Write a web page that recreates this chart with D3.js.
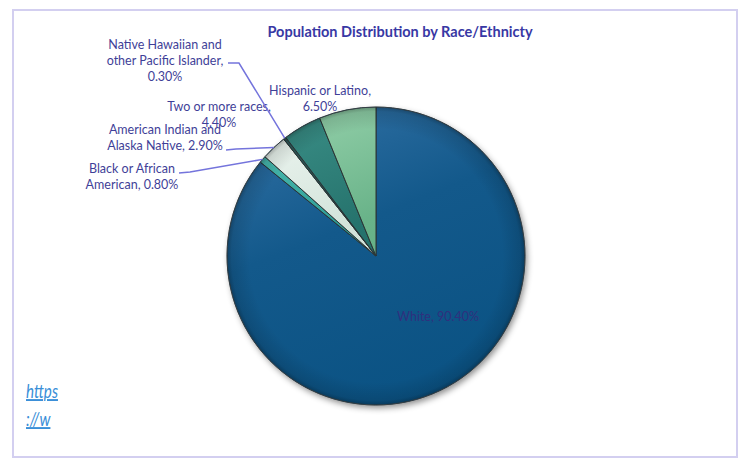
<!DOCTYPE html>
<html>
<head>
<meta charset="utf-8">
<script src="https://cdn.jsdelivr.net/npm/d3@7/dist/d3.min.js"></script>
<style>
html,body{margin:0;padding:0;background:#fff;}
svg{display:block;}
</style>
</head>
<body>
<svg id="chart" width="742" height="459"></svg>
<script>
const categories = ["White", "Black or African American", "American Indian and Alaska Native", "Native Hawaiian and other Pacific Islander", "Two or more races", "Hispanic or Latino"];
const values = [90.4, 0.8, 2.9, 0.3, 4.4, 6.5];
const labelLines = [
  ["White, 90.40%"],
  ["Black or African", "American, 0.80%"],
  ["American Indian and", "Alaska Native, 2.90%"],
  ["Native Hawaiian and", "other Pacific Islander,", "0.30%"],
  ["Two or more races,", "4.40%"],
  ["Hispanic or Latino,", "6.50%"]
];
const colorsTop = ["#2f6fa3", "#4fc0b4", "#eef6f1", "#2f5a5a", "#3a8e86", "#94d0aa"];
const colorsBottom = ["#0a5283", "#23908a", "#c8ddd2", "#1f4444", "#1f6a64", "#5aa97e"];

const svg = d3.select("#chart");

// frame
svg.append("rect").attr("x", 13).attr("y", 10).attr("width", 724).attr("height", 447)
  .attr("fill", "#fff").attr("stroke", "#d3cff0").attr("stroke-width", 2);

// title
svg.append("text").attr("x", 400).attr("y", 37).attr("text-anchor", "middle")
  .attr("font-family", "Lato, 'Open Sans', sans-serif").attr("font-weight", "bold")
  .attr("font-size", 14.5).attr("fill", "#3838a4")
  .text("Population Distribution by Race/Ethnicty");

const cx = 376, cy = 256, r = 149;
const defs = svg.append("defs");

const shadow = defs.append("filter").attr("id", "shadow").attr("x", "-20%").attr("y", "-20%").attr("width", "140%").attr("height", "140%");
shadow.append("feDropShadow").attr("dx", 2).attr("dy", 3).attr("stdDeviation", 3).attr("flood-color", "#000").attr("flood-opacity", 0.45);

categories.forEach((c, i) => {
  const g = defs.append("linearGradient").attr("id", "grad" + i)
    .attr("gradientUnits", "userSpaceOnUse")
    .attr("x1", -r * 0.5).attr("y1", -r).attr("x2", r * 0.3).attr("y2", r);
  g.append("stop").attr("offset", "0%").attr("stop-color", colorsTop[i]);
  g.append("stop").attr("offset", "40%").attr("stop-color", d3.interpolateRgb(colorsTop[i], colorsBottom[i])(0.75));
  g.append("stop").attr("offset", "100%").attr("stop-color", colorsBottom[i]);
});
const rim = defs.append("radialGradient").attr("id", "rim")
  .attr("gradientUnits", "userSpaceOnUse").attr("cx", 0).attr("cy", 0).attr("r", r);
rim.append("stop").attr("offset", "85%").attr("stop-color", "#000").attr("stop-opacity", 0);
rim.append("stop").attr("offset", "97%").attr("stop-color", "#000").attr("stop-opacity", 0.12);
rim.append("stop").attr("offset", "100%").attr("stop-color", "#000").attr("stop-opacity", 0.3);

const pie = d3.pie().sort(null).value(d => d)(values);
const arc = d3.arc().innerRadius(0).outerRadius(r);

const pg = svg.append("g").attr("transform", `translate(${cx},${cy})`);
pg.append("circle").attr("r", r).attr("fill", "#0b5283").attr("filter", "url(#shadow)");
pg.selectAll("path.slice").data(pie).enter().append("path")
  .attr("class", "slice")
  .attr("d", arc)
  .attr("fill", (d, i) => `url(#grad${i})`)
  .attr("stroke", "#2c3435").attr("stroke-width", 1).attr("stroke-linejoin", "round");
pg.append("circle").attr("r", r).attr("fill", "url(#rim)").attr("pointer-events", "none");
pg.append("circle").attr("r", r).attr("fill", "none").attr("stroke", "#4a5a66").attr("stroke-opacity", 0.5).attr("stroke-width", 0.8);

// labels
const labelPos = [
  [438, 321], [132, 173], [165, 134], [165, 49], [219, 111], [320, 95]
];
const labelFill = ["#30307e", "#3f3f98", "#3f3f98", "#3f3f98", "#3f3f98", "#3f3f98"];
const lg = svg.append("g").attr("font-family", "Lato, 'Open Sans', sans-serif").attr("font-size", 12.5).attr("text-anchor", "middle");
labelLines.forEach((lines, i) => {
  const t = lg.append("text").attr("x", labelPos[i][0]).attr("y", labelPos[i][1]).attr("fill", labelFill[i]);
  lines.forEach((ln, j) => {
    t.append("tspan").attr("x", labelPos[i][0]).attr("dy", j === 0 ? 0 : 16).text(ln);
  });
});

// leader lines: anchor points on pie edge derived from slice angles
function edgePoint(d, frac) {
  const a = d.startAngle + (d.endAngle - d.startAngle) * frac;
  return [cx + r * Math.sin(a), cy - r * Math.cos(a)];
}
const leaders = [
  { i: 1, pts: [[179, 173], [190, 172]] },
  { i: 2, pts: [[226, 150], [236, 149]] },
  { i: 3, pts: [[228, 63], [239, 63]] }
];
leaders.forEach(l => {
  const p = edgePoint(pie[l.i], 0.5);
  svg.append("path").attr("d", d3.line()([...l.pts, p]))
    .attr("fill", "none").attr("stroke", "#7474dc").attr("stroke-width", 1.5);
});

// link text (condensed like the original narrow font)
const link = svg.append("g").attr("transform", "translate(26,0) scale(0.8,1)")
  .attr("font-family", "Lato, sans-serif").attr("font-style", "italic")
  .attr("font-size", 19).attr("fill", "#3a8fd8").attr("text-decoration", "underline");
link.append("text").attr("x", 0).attr("y", 398).text("https");
link.append("text").attr("x", 0).attr("y", 426).text("://w");
</script>
</body>
</html>
